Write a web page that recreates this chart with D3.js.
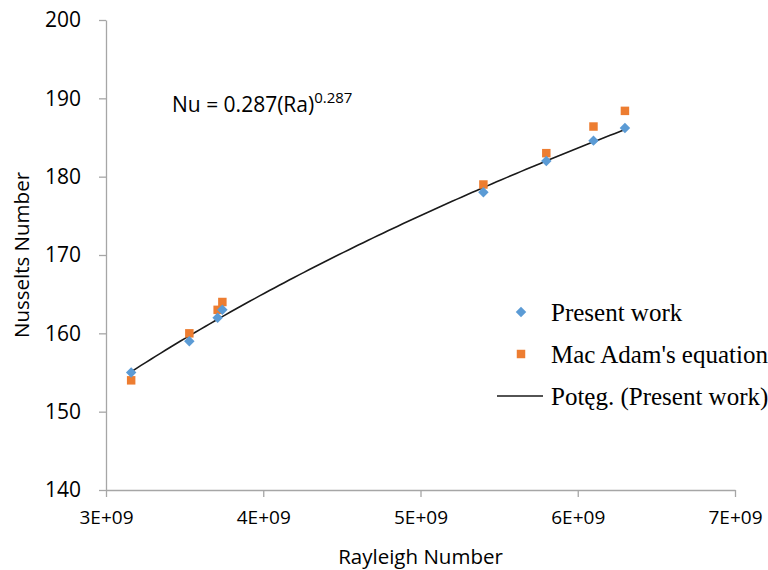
<!DOCTYPE html>
<html>
<head>
<meta charset="utf-8">
<script src="https://cdn.jsdelivr.net/npm/d3@7"></script>
<style>
  body { margin: 0; background: #fff; }
  svg { display: block; }
</style>
</head>
<body>
<div id="chart"></div>
<script>
// values
const rayleigh = [3.16e9, 3.53e9, 3.71e9, 3.74e9, 5.4e9, 5.8e9, 6.1e9, 6.3e9];
const presentWork = [155, 159, 162, 163, 178, 182, 184.6, 186.2];
const macAdam = [154, 160, 163, 164, 179, 183, 186.4, 188.4];
const xTicks = [3e9, 4e9, 5e9, 6e9, 7e9];
const yTicks = [140, 150, 160, 170, 180, 190, 200];
const legendLabels = ["Present work", "Mac Adam's equation", "Potęg. (Present work)"];

const width = 768, height = 570;
const margin = { top: 20, right: 33, bottom: 80, left: 106 };

const svg = d3.select("#chart").append("svg")
    .attr("width", width)
    .attr("height", height);

const x = d3.scaleLinear()
    .domain([3e9, 7e9])
    .range([margin.left, width - margin.right]);
const y = d3.scaleLinear()
    .domain([140, 200])
    .range([height - margin.bottom, margin.top]);

const axisColor = "#a6a6a6";
const tickFont = "'Open Sans', 'DejaVu Sans', sans-serif";

// x axis
const gx = svg.append("g")
    .attr("transform", `translate(0,${y(140)})`)
    .call(d3.axisBottom(x).tickValues(xTicks).tickSize(7).tickSizeOuter(0)
        .tickFormat(d => Math.round(d / 1e9) + "E+09"));
gx.select(".domain").attr("stroke", axisColor).attr("stroke-width", 1.3);
gx.selectAll(".tick line").attr("stroke", axisColor).attr("stroke-width", 1.3);
gx.selectAll(".tick text")
    .attr("fill", "#000")
    .attr("y", 21)
    .attr("dy", "0.71em")
    .style("font", `19px ${tickFont}`);

// y axis
const gy = svg.append("g")
    .attr("transform", `translate(${x(3e9)},0)`)
    .call(d3.axisLeft(y).tickValues(yTicks).tickSize(7).tickSizeOuter(0));
gy.select(".domain").attr("stroke", axisColor).attr("stroke-width", 1.3);
gy.selectAll(".tick line").attr("stroke", axisColor).attr("stroke-width", 1.3);
gy.selectAll(".tick text")
    .attr("fill", "#000")
    .attr("x", -25)
    .style("font", `21px ${tickFont}`);

// axis titles
svg.append("text")
    .attr("x", (x(3e9) + x(7e9)) / 2)
    .attr("y", 564)
    .attr("text-anchor", "middle")
    .style("font", `20.5px ${tickFont}`)
    .text("Rayleigh Number");
svg.append("text")
    .attr("transform", `translate(29,${(y(140) + y(200)) / 2}) rotate(-90)`)
    .attr("text-anchor", "middle")
    .style("font", `20.5px ${tickFont}`)
    .text("Nusselts Number");

// power trendline, least squares in log space
const lx = rayleigh.map(Math.log), ly = presentWork.map(Math.log);
const mx = d3.mean(lx), my = d3.mean(ly);
const b = d3.sum(lx, (v, i) => (v - mx) * (ly[i] - my)) / d3.sum(lx, v => (v - mx) ** 2);
const a = Math.exp(my - b * mx);
const fitX = d3.range(0, 101).map(i => d3.min(rayleigh) + (d3.max(rayleigh) - d3.min(rayleigh)) * i / 100);
svg.append("path")
    .datum(fitX)
    .attr("fill", "none")
    .attr("stroke", "#1a1a1a")
    .attr("stroke-width", 1.6)
    .attr("d", d3.line().x(d => x(d)).y(d => y(a * Math.pow(d, b))));

// markers
const blue = "#5b9bd5", orange = "#ed7d31";
const diamond = d3.symbol().type(d3.symbolDiamond2).size(70);
const square = d3.symbol().type(d3.symbolSquare).size(72);

svg.append("g").selectAll("path")
    .data(rayleigh.map((r, i) => [r, macAdam[i]]))
    .join("path")
    .attr("transform", d => `translate(${x(d[0])},${y(d[1])})`)
    .attr("d", square)
    .attr("fill", orange);

svg.append("g").selectAll("path")
    .data(rayleigh.map((r, i) => [r, presentWork[i]]))
    .join("path")
    .attr("transform", d => `translate(${x(d[0])},${y(d[1])})`)
    .attr("d", diamond)
    .attr("fill", blue);

// equation
const eq = svg.append("text")
    .attr("x", 172)
    .attr("y", 112)
    .style("font", `21px ${tickFont}`);
eq.append("tspan").text("Nu = 0.287(Ra)");
eq.append("tspan").attr("dy", -9).style("font-size", "15px").text("0.287");

// legend
const legend = svg.append("g").style("font", "25px 'Liberation Serif', 'DejaVu Serif', serif");
const ly0 = [312, 354, 396];
legend.append("path").attr("transform", `translate(521,${ly0[0]})`).attr("d", diamond).attr("fill", blue);
legend.append("path").attr("transform", `translate(521,${ly0[1]})`).attr("d", square).attr("fill", orange);
legend.append("line")
    .attr("x1", 497).attr("x2", 543).attr("y1", ly0[2]).attr("y2", ly0[2])
    .attr("stroke", "#1a1a1a").attr("stroke-width", 1.6);
legend.selectAll("text")
    .data(legendLabels)
    .join("text")
    .attr("x", 551)
    .attr("y", (d, i) => ly0[i])
    .attr("dy", "0.35em")
    .text(d => d);
</script>
</body>
</html>
